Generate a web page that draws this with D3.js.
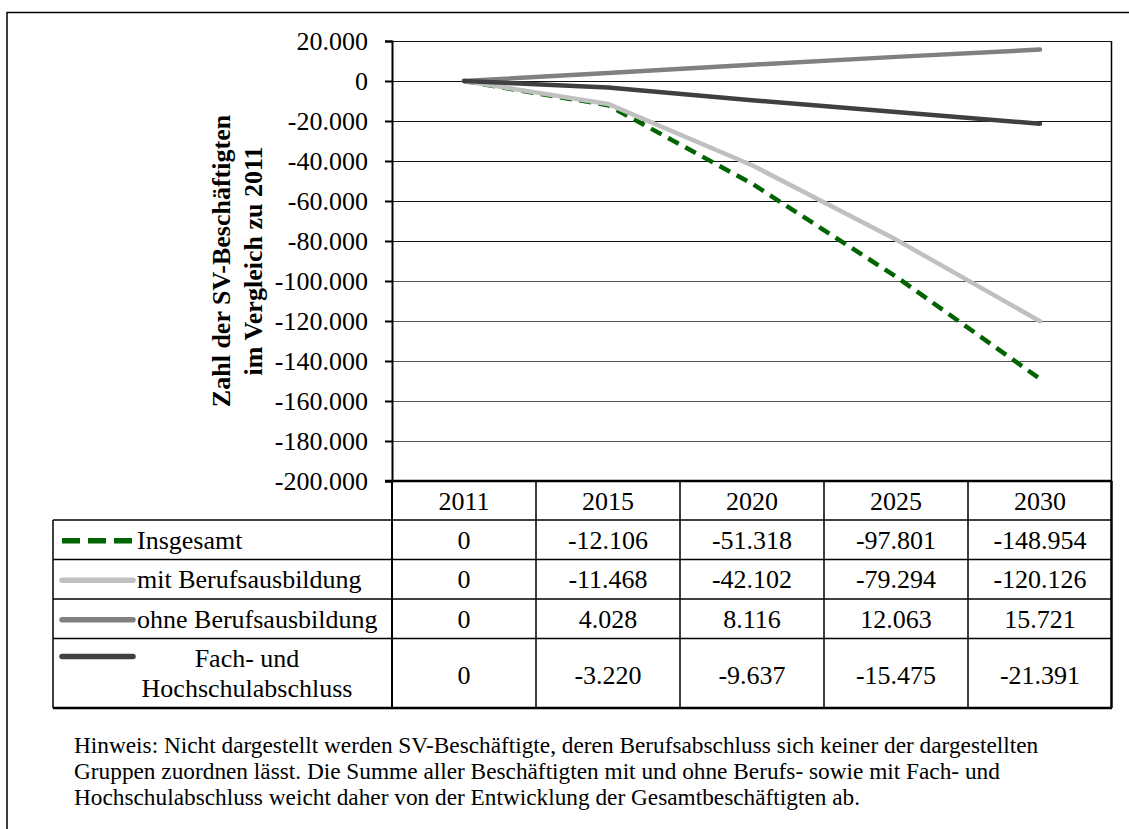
<!DOCTYPE html>
<html><head><meta charset="utf-8">
<script src="https://cdn.jsdelivr.net/npm/d3@7"></script>
<style>
html,body{margin:0;padding:0;background:#fff;}
svg{display:block;}
svg text{font-family:"Liberation Serif","Times New Roman",serif;fill:#000;}
</style></head>
<body>
<svg id="c" width="1129" height="829"></svg>
<script>
const years = ["2011","2015","2020","2025","2030"];
const seriesNames = ["Insgesamt","mit Berufsausbildung","ohne Berufsausbildung","Fach- und Hochschulabschluss"];
const insgesamt = [0,-12106,-51318,-97801,-148954];
const mitBerufsausbildung = [0,-11468,-42102,-79294,-120126];
const ohneBerufsausbildung = [0,4028,8116,12063,15721];
const fachHochschul = [0,-3220,-9637,-15475,-21391];
const yTicks = [20000,0,-20000,-40000,-60000,-80000,-100000,-120000,-140000,-160000,-180000,-200000];
const yTitle = ["Zahl der SV-Beschäftigten","im Vergleich zu 2011"];
const fachLines = ["Fach- und","Hochschulabschluss"];
const note = [
 "Hinweis: Nicht dargestellt werden SV-Beschäftigte, deren Berufsabschluss sich keiner der dargestellten",
 "Gruppen zuordnen lässt. Die Summe aller Beschäftigten mit und ohne Berufs- sowie mit Fach- und",
 "Hochschulabschluss weicht daher von der Entwicklung der Gesamtbeschäftigten ab."
];

const series = [
 {name:seriesNames[0], values:insgesamt, color:"#006400", dash:"12,7.5", legendDash:"18,8"},
 {name:seriesNames[1], values:mitBerufsausbildung, color:"#c0c0c0"},
 {name:seriesNames[2], values:ohneBerufsausbildung, color:"#808080"},
 {name:seriesNames[3], values:fachHochschul, color:"#404040"}
];

const loc = d3.formatLocale({decimal:",",thousands:".",grouping:[3],currency:["","€"],minus:"-"});
const fmt = loc.format(",d");
const FS = 26;

const svg = d3.select("#c");
const L=392, R=1112, T=41, B=481;
const x = d3.scaleBand().domain(years).range([L,R]);
const y = d3.scaleLinear().domain([-200000,20000]).range([B,T]);

// outer frame
svg.append("path").attr("d","M7,829 V12.5 H1129").attr("fill","none").attr("stroke","#000").attr("stroke-width",1.5);

// gridlines
svg.append("g").selectAll("line").data(yTicks).join("line")
 .attr("x1",L).attr("x2",R).attr("y1",d=>Math.round(y(d))+0.5).attr("y2",d=>Math.round(y(d))+0.5)
 .attr("stroke",(d,i)=>i<6?"#111":"#555").attr("stroke-width",1.2);
svg.append("line").attr("x1",R-0.5).attr("x2",R-0.5).attr("y1",T).attr("y2",B).attr("stroke","#000").attr("stroke-width",1.5);

// y axis
const ya = svg.append("g").attr("transform",`translate(${L},0)`)
 .call(d3.axisLeft(y).tickValues(yTicks).tickFormat(fmt).tickSize(7).tickPadding(17));
ya.attr("font-family",null).attr("font-size",null);
ya.select(".domain").attr("stroke","#000").attr("stroke-width",2);
ya.selectAll(".tick line").attr("stroke","#000").attr("stroke-width",2);
ya.selectAll(".tick text").style("font-size",FS+"px");

// y title
const yt = svg.append("text").attr("transform","translate(0,261) rotate(-90)")
 .attr("text-anchor","middle").style("font-weight","bold").style("font-size",FS+"px");
yt.append("tspan").attr("x",0).attr("y",230).text(yTitle[0]);
yt.append("tspan").attr("x",0).attr("y",262).text(yTitle[1]);

// lines
const line = d3.line().x((d,i)=>x(years[i])+x.bandwidth()/2).y(d=>y(d));
svg.append("g").selectAll("path").data(series).join("path")
 .attr("d",d=>line(d.values)).attr("fill","none").attr("stroke",d=>d.color)
 .attr("stroke-width",4.5).attr("stroke-linejoin","round")
 .attr("stroke-linecap",d=>d.dash?"butt":"round")
 .attr("stroke-dasharray",d=>d.dash||null);

// data table
const rowEdges = [481,520,559.5,599,638.5,708];
const TL = 53;
const tg = svg.append("g");
years.forEach(yr=>{
  tg.append("text").attr("x",x(yr)+x.bandwidth()/2).attr("y",(rowEdges[0]+rowEdges[1])/2+9)
   .attr("text-anchor","middle").style("font-size",FS+"px").text(yr);
});
tg.append("line").attr("x1",385).attr("x2",R).attr("y1",B).attr("y2",B).attr("stroke","#000").attr("stroke-width",2.5);
rowEdges.slice(1).forEach((yy,i)=>{
  tg.append("line").attr("x1",TL).attr("x2",R).attr("y1",yy).attr("y2",yy).attr("stroke","#000").attr("stroke-width",i===rowEdges.length-2?2.5:1.5);
});
years.forEach(yr=>{
  tg.append("line").attr("x1",x(yr)).attr("x2",x(yr)).attr("y1",B).attr("y2",rowEdges[rowEdges.length-1]).attr("stroke","#000").attr("stroke-width",yr===years[0]?2:1.5);
});
tg.append("line").attr("x1",R-0.5).attr("x2",R-0.5).attr("y1",B).attr("y2",rowEdges[rowEdges.length-1]).attr("stroke","#000").attr("stroke-width",2.5);
tg.append("line").attr("x1",TL).attr("x2",TL).attr("y1",rowEdges[1]).attr("y2",rowEdges[rowEdges.length-1]).attr("stroke","#000").attr("stroke-width",1.5);

series.forEach((s,i)=>{
  const top=rowEdges[i+1], bot=rowEdges[i+2], mid=(top+bot)/2;
  const symY = i===3 ? top+18 : mid+1;
  tg.append("line").attr("x1",62).attr("x2",133).attr("y1",symY).attr("y2",symY)
   .attr("stroke",s.color).attr("stroke-width",5.5)
   .attr("stroke-linecap",s.dash?"butt":"round")
   .attr("stroke-dasharray",s.legendDash||null);
  if(i===3){
    tg.append("text").attr("text-anchor","middle").attr("x",247).attr("y",top+28.5).style("font-size",FS+"px").text(fachLines[0]);
    tg.append("text").attr("text-anchor","middle").attr("x",247).attr("y",top+58.5).style("font-size",FS+"px").text(fachLines[1]);
  } else {
    tg.append("text").attr("x",137).attr("y",mid+9).style("font-size",FS+"px").text(s.name);
  }
  s.values.forEach((v,j)=>{
    tg.append("text").attr("x",x(years[j])+x.bandwidth()/2).attr("y",mid+(i===3?11:9))
     .attr("text-anchor","middle").style("font-size",FS+"px").text(fmt(v));
  });
});

// note
const nt = svg.append("text").style("font-size","23.3px");
note.forEach((t,i)=>nt.append("tspan").attr("x",74).attr("y",753+i*26).text(t));
</script>
</body></html>
